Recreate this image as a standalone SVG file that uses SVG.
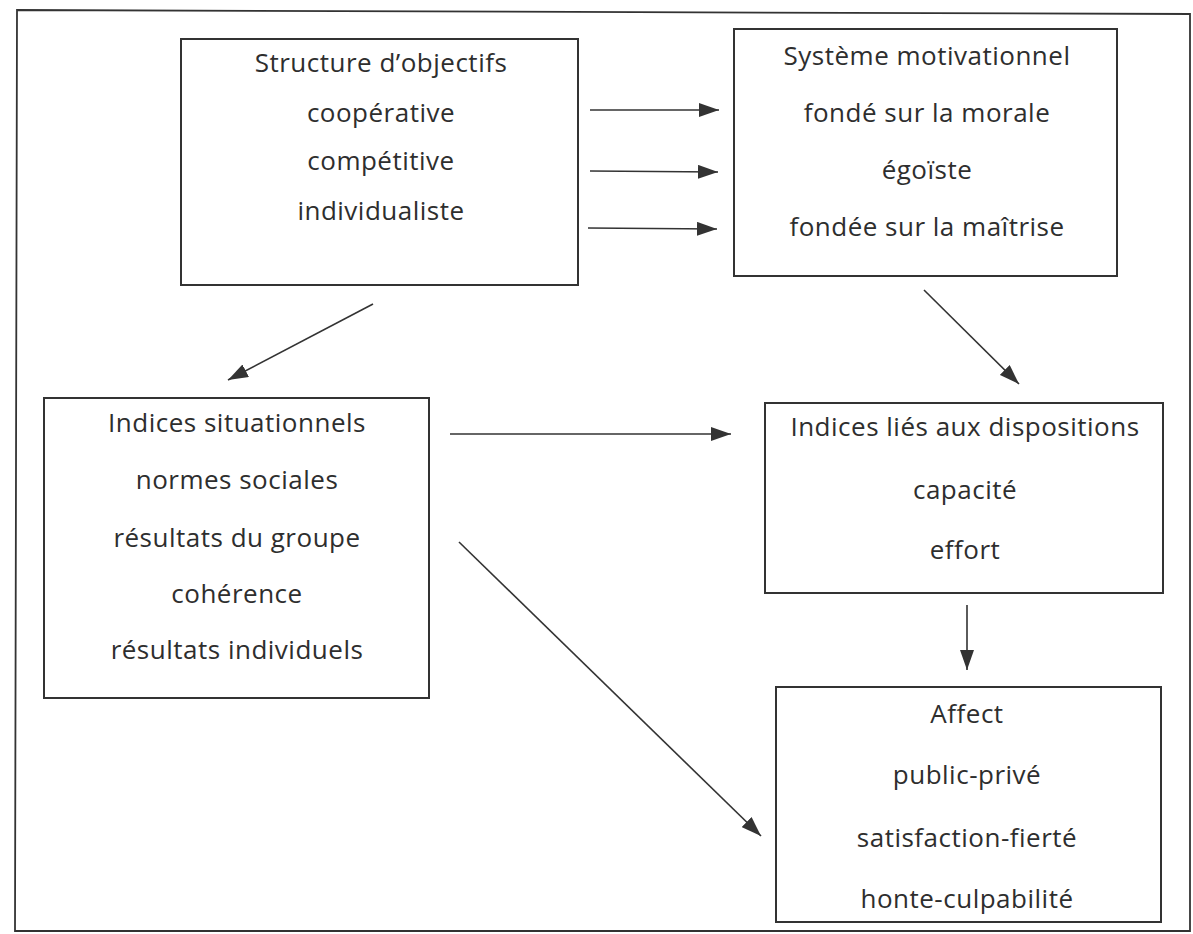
<svg xmlns="http://www.w3.org/2000/svg" width="1193" height="934" viewBox="0 0 1193 934">
  <style>
    .box { fill: none; stroke: #333; stroke-width: 2; }
    .frame { fill: none; stroke: #333; stroke-width: 1.8; }
    .lbl { font-family: "Open Sans", "Liberation Sans", sans-serif; font-size: 26px; letter-spacing: 0.5px; fill: #2e2e2e; text-anchor: middle; }
    .conn { stroke: #333; stroke-width: 1.6; fill: none; marker-end: url(#head); }
  </style>
  <defs>
    <marker id="head" markerUnits="userSpaceOnUse" markerWidth="20" markerHeight="14" refX="20" refY="7" orient="auto">
      <path d="M0,0 L20,7 L0,14 Z" fill="#333"/>
    </marker>
  </defs>
  <rect width="1193" height="934" fill="#fff"/>

  <!-- outer frame -->
  <path class="frame" d="M17,10 L1190,14 L1190,931 L15,931 Z"/>

  <g id="structure">
    <rect class="box" x="181" y="39" width="397" height="246"/>
    <text class="lbl" x="381" y="72">Structure d’objectifs</text>
    <text class="lbl" x="381" y="122">coopérative</text>
    <text class="lbl" x="381" y="170">compétitive</text>
    <text class="lbl" x="381" y="220">individualiste</text>
  </g>

  <g id="systeme">
    <rect class="box" x="734" y="29" width="383" height="247"/>
    <text class="lbl" x="927" y="65">Système motivationnel</text>
    <text class="lbl" x="927" y="122">fondé sur la morale</text>
    <text class="lbl" x="927" y="179">égoïste</text>
    <text class="lbl" x="927" y="236">fondée sur la maîtrise</text>
  </g>

  <g id="situationnels">
    <rect class="box" x="44" y="398" width="385" height="300"/>
    <text class="lbl" x="237" y="432">Indices situationnels</text>
    <text class="lbl" x="237" y="489">normes sociales</text>
    <text class="lbl" x="237" y="547">résultats du groupe</text>
    <text class="lbl" x="237" y="603">cohérence</text>
    <text class="lbl" x="237" y="659">résultats individuels</text>
  </g>

  <g id="dispositions">
    <rect class="box" x="765" y="403" width="398" height="190"/>
    <text class="lbl" x="965" y="436">Indices liés aux dispositions</text>
    <text class="lbl" x="965" y="499">capacité</text>
    <text class="lbl" x="965" y="559">effort</text>
  </g>

  <g id="affect">
    <rect class="box" x="776" y="687" width="385" height="235"/>
    <text class="lbl" x="967" y="723">Affect</text>
    <text class="lbl" x="967" y="784">public-privé</text>
    <text class="lbl" x="967" y="847">satisfaction-fierté</text>
    <text class="lbl" x="967" y="908">honte-culpabilité</text>
  </g>

  <g id="connectors">
    <line class="conn" x1="590" y1="110" x2="719" y2="110"/>
    <line class="conn" x1="590" y1="171" x2="718" y2="172"/>
    <line class="conn" x1="588" y1="228" x2="717" y2="229"/>
    <line class="conn" x1="373" y1="304" x2="228" y2="380"/>
    <line class="conn" x1="924" y1="290" x2="1019" y2="384"/>
    <line class="conn" x1="450" y1="434" x2="731" y2="434"/>
    <line class="conn" x1="459" y1="542" x2="761" y2="836"/>
    <line class="conn" x1="967" y1="605" x2="967" y2="670"/>
  </g>
</svg>
